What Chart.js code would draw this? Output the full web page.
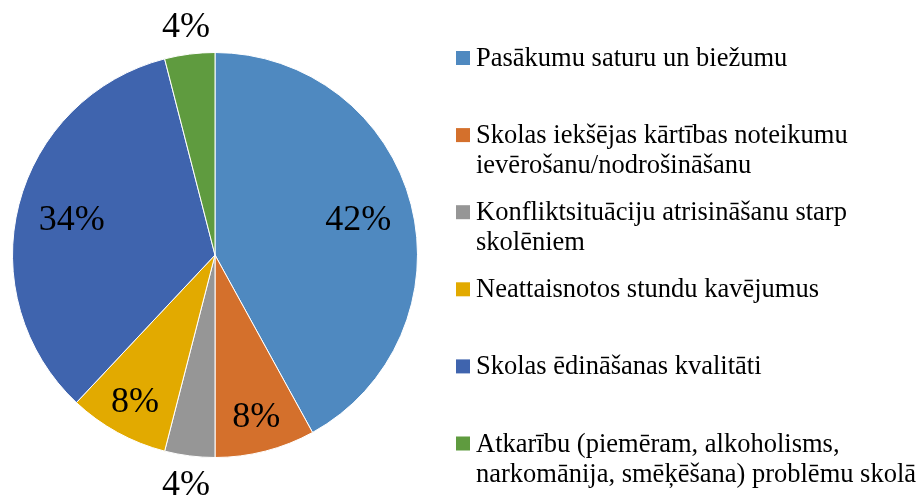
<!DOCTYPE html>
<html>
<head>
<meta charset="utf-8">
<script src="https://cdn.jsdelivr.net/npm/chart.js@4/dist/chart.umd.min.js"></script>
<style>
html,body{margin:0;padding:0;background:#fff;}
#wrap{position:relative;width:921px;height:498px;}
</style>
</head>
<body>
<div id="wrap"><canvas id="c" width="921" height="498"></canvas></div>
<script>
const categories = [
  ["Pasākumu saturu un biežumu"],
  ["Skolas iekšējas kārtības noteikumu", "ievērošanu/nodrošināšanu"],
  ["Konfliktsituāciju atrisināšanu starp", "skolēniem"],
  ["Neattaisnotos stundu kavējumus"],
  ["Skolas ēdināšanas kvalitāti"],
  ["Atkarību (piemēram, alkoholisms,", "narkomānija, smēķēšana) problēmu skolā"]
];
const percentValues = [42, 8, 4, 8, 34, 4];
const sliceColors = ["#4F89C0", "#D4702C", "#969696", "#E2AA00", "#3F64AE", "#5F9B3F"];

const SERIF = "'Liberation Serif', 'Times New Roman', serif";

const labelPlugin = {
  id: 'sliceLabels',
  afterDatasetsDraw(chart) {
    const ctx = chart.ctx;
    const meta = chart.getDatasetMeta(0);
    const ds = chart.data.datasets[0];
    ctx.save();
    ctx.font = "36px " + SERIF;
    ctx.fillStyle = "#000";
    ctx.textAlign = "center";
    ctx.textBaseline = "middle";
    meta.data.forEach((arc, i) => {
      const p = arc.getProps(['x','y','startAngle','endAngle','outerRadius'], true);
      const mid = (p.startAngle + p.endAngle) / 2;
      const v = ds.data[i];
      const f = v < 5 ? 1.14 : (v > 20 ? 0.73 : 0.82);
      const r = p.outerRadius * f;
      ctx.fillText(v + "%", p.x + Math.cos(mid) * r, p.y + Math.sin(mid) * r + 2);
    });
    ctx.restore();
  }
};

const legendPlugin = {
  id: 'sideLegend',
  afterDraw(chart) {
    const ctx = chart.ctx;
    const ds = chart.data.datasets[0];
    ctx.save();
    ctx.font = "26.5px " + SERIF;
    ctx.textAlign = "left";
    ctx.textBaseline = "alphabetic";
    const x0 = 456, y0 = 58, step = 77.1, lh = 30;
    chart.data.labels.forEach((lines, i) => {
      const cy = y0 + i * step;
      ctx.fillStyle = ds.backgroundColor[i];
      ctx.fillRect(x0, cy - 7, 14, 14);
      ctx.fillStyle = "#000";
      lines.forEach((t, j) => ctx.fillText(t, x0 + 20, cy + 8 + j * lh));
    });
    ctx.restore();
  }
};

new Chart(document.getElementById('c'), {
  type: 'pie',
  data: {
    labels: categories,
    datasets: [{
      data: percentValues,
      backgroundColor: sliceColors,
      borderColor: "#ffffff",
      borderWidth: 1
    }]
  },
  options: {
    responsive: false,
    animation: false,
    layout: { padding: { left: 12, top: 52, right: 503, bottom: 40 } },
    plugins: {
      legend: { display: false },
      tooltip: { enabled: false }
    }
  },
  plugins: [labelPlugin, legendPlugin]
});
</script>
</body>
</html>
